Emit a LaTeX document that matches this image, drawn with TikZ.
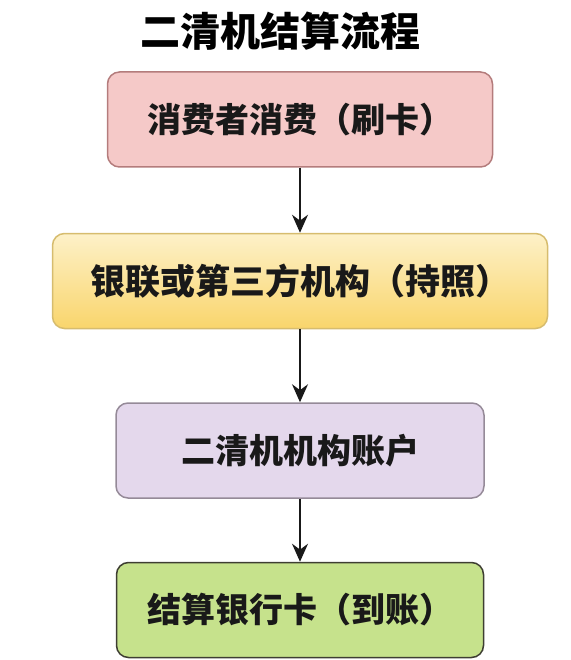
\documentclass[tikz,border=0pt]{standalone}
\usepackage{fontspec}
\newfontfamily\cjk{Noto Sans CJK SC}
\usetikzlibrary{positioning,arrows.meta}
\definecolor{pinkfill}{HTML}{F5C9C8}
\definecolor{pinkline}{HTML}{B47C7C}
\definecolor{yellowtop}{HTML}{FDF1C8}
\definecolor{yellowbot}{HTML}{F9D56C}
\definecolor{yellowline}{HTML}{D6BC6E}
\definecolor{lilacfill}{HTML}{E4D8EC}
\definecolor{lilacline}{HTML}{958A98}
\definecolor{greenfill}{HTML}{C6E28C}
\definecolor{greenline}{HTML}{3E3E32}

\begin{document}
\begin{tikzpicture}[
    x=1pt, y=1pt,
    stepbox/.style={draw, rounded corners=12pt, line width=1.5pt, minimum height=95pt, font=\cjk\bfseries\fontsize{34}{40}\selectfont, text=black!90},
    arrow/.style={-{Stealth[length=18pt, width=16pt]}, line width=1.6pt, black!90},
    node distance=65pt
]
\useasboundingbox (0,0) rectangle (570,-660);
% Title
\node[font=\cjk\bfseries\fontsize{40}{46}\selectfont] (title) at (280,-31) {二清机结算流程};
% Steps
\node[stepbox, fill=pinkfill, draw=pinkline, minimum width=385pt] (swipe) at (300,-119.5) {消费者消费（刷卡）};
\node[stepbox, top color=yellowtop, bottom color=yellowbot, draw=yellowline, minimum width=495pt, font=\cjk\bfseries\fontsize{35}{41}\selectfont, below=65pt of swipe] (union) {银联或第三方机构（持照）};
\node[stepbox, fill=lilacfill, draw=lilacline, minimum width=368pt, below=73pt of union] (account) {二清机机构账户};
\node[stepbox, fill=greenfill, draw=greenline, minimum width=367pt, below=63pt of account] (settle) {结算银行卡（到账）};

% Arrows
\draw[arrow] (swipe) -- (union);
\draw[arrow] (union) -- (account);
\draw[arrow] (account) -- (settle);
\end{tikzpicture}
\end{document}
